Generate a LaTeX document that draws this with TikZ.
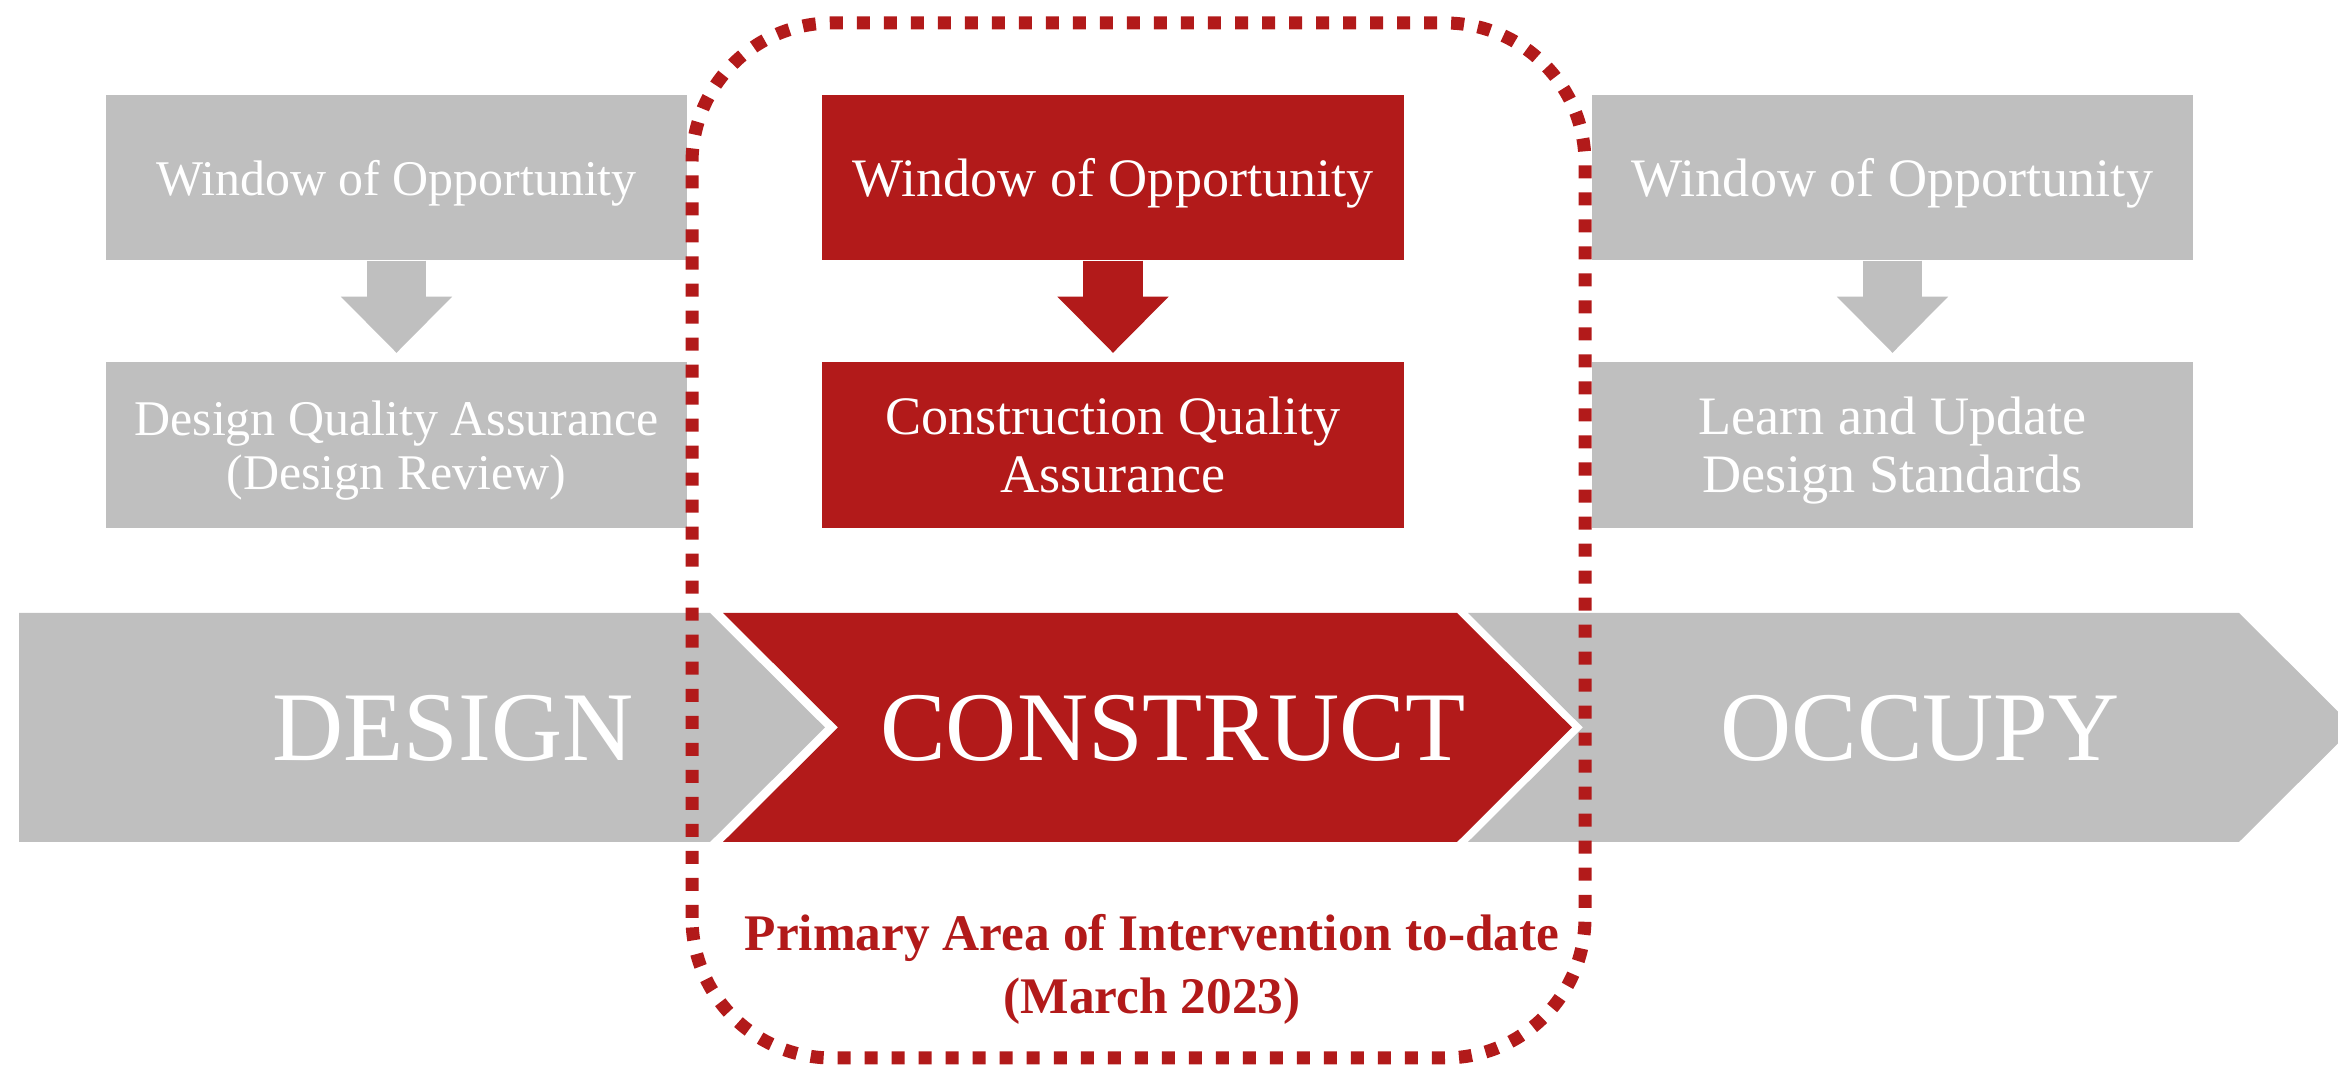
\documentclass[tikz,border=0pt]{standalone}
\usepackage{fontspec}
\setmainfont{Liberation Serif}
\usetikzlibrary{arrows.meta,positioning}
\definecolor{qared}{RGB}{178,26,26}
\definecolor{qagray}{RGB}{191,191,191}

\begin{document}
\begin{tikzpicture}[x=0.01cm,y=0.01cm,node distance=1.01cm,
    box/.style={minimum height=1.65cm,inner sep=0pt,text depth=0pt,align=center,text=white},
    small text/.style={font=\fontsize{14.2}{15.4}\selectfont},
    big text/.style={font=\fontsize{15.4}{16.5}\selectfont},
    gray box/.style={box,fill=qagray,minimum width=5.81cm,small text},
    red box/.style={box,fill=qared,minimum width=5.82cm,big text},
    stage/.style={anchor=base,text=white,font=\fontsize{28}{30}\selectfont},
    down arrow/.style={line width=0.59cm,shorten >=0.09cm,
        -{Triangle[width=1.11cm,length=0.56cm,line width=0pt]}}]

  \useasboundingbox (0,0) rectangle (2338,1065);

  % process band
  \fill[qagray] (19,452) -- (710,452) -- (825,337.5) -- (710,223) -- (19,223) -- cycle;
  \fill[qared] (723,452) -- (1457,452) -- (1572,337.5) -- (1457,223) -- (723,223) -- (838,337.5) -- cycle;
  \fill[qagray] (1468,452) -- (2239,452) -- (2354,337.5) -- (2239,223) -- (1468,223) -- (1583,337.5) -- cycle;

  % windows and assurance steps
  \node[gray box] (winD) at (396.5,887.5) {Window of Opportunity};
  \node[gray box] (qaD) [below=of winD] {Design Quality Assurance\\(Design Review)};
  \node[red box] (winC) at (1113,887.5) {Window of Opportunity};
  \node[red box] (qaC) [below=of winC] {Construction Quality\\Assurance};
  \node[gray box,minimum width=6.01cm,big text] (winO) at (1892.5,887.5) {Window of Opportunity};
  \node[gray box,minimum width=6.01cm,big text] (qaO) [below=of winO] {Learn and Update\\Design Standards};

  \draw[down arrow,qagray] (winD) -- (qaD);
  \draw[down arrow,qared] (winC) -- (qaC);
  \draw[down arrow,qagray] (winO) -- (qaO);

  % area of intervention
  \draw[qared,line width=0.13cm,dash pattern=on 0.13cm off 0.14cm,rounded corners=1.4cm]
    (692,7) rectangle (1585,1042);

  \node[stage] (design) at (453,304) {DESIGN};
  \node[stage] (construct) at (1173,304) {CONSTRUCT};
  \node[stage] (occupy) at (1920,304) {OCCUPY};

  \node[text=qared,align=center,font=\fontsize{14.6}{17.9}\selectfont\bfseries] (note) at (1152,96)
    {Primary Area of Intervention to-date\\(March 2023)};
\end{tikzpicture}
\end{document}
